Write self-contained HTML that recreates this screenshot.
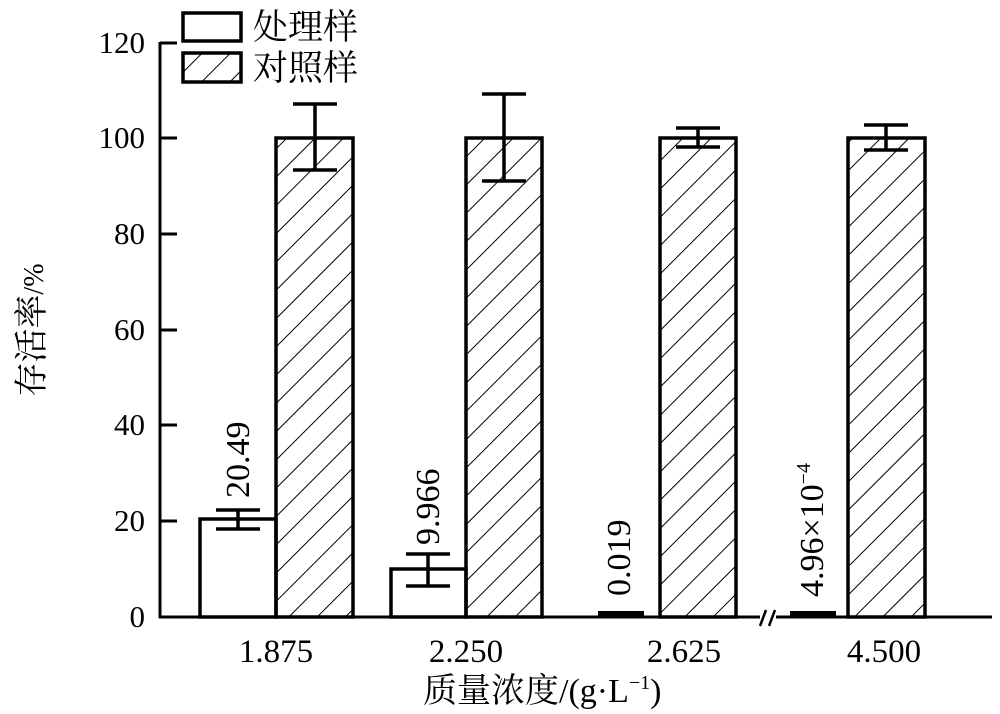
<!DOCTYPE html>
<html><head><meta charset="utf-8"><style>
html,body{margin:0;padding:0;background:#fff;}
svg{display:block;}
text{font-family:"Liberation Serif","Noto Serif CJK SC","Noto Sans CJK SC",serif;fill:#000;}
</style></head><body>
<svg width="1000" height="714" viewBox="0 0 1000 714" xmlns="http://www.w3.org/2000/svg">
<defs>
<pattern id="h" patternUnits="userSpaceOnUse" width="20" height="20" patternTransform="rotate(45)">
<line x1="0" y1="0" x2="0" y2="20" stroke="#000" stroke-width="2"/>
</pattern>
</defs>
<g stroke="#000" stroke-width="3" fill="none">
<line x1="160" y1="42" x2="160" y2="618"/>
<line x1="159" y1="617" x2="760" y2="617"/>
<line x1="776" y1="617" x2="992" y2="617"/>
<line x1="160" y1="43" x2="177" y2="43"/>
<line x1="160" y1="138" x2="177" y2="138"/>
<line x1="160" y1="234" x2="177" y2="234"/>
<line x1="160" y1="330" x2="177" y2="330"/>
<line x1="160" y1="425" x2="177" y2="425"/>
<line x1="160" y1="521" x2="177" y2="521"/>
</g>
<g stroke="#000" stroke-width="2.5">
<line x1="760" y1="626" x2="766" y2="610"/>
<line x1="769" y1="626" x2="775" y2="610"/>
</g>
<g font-size="31" text-anchor="end">
<text x="145" y="53">120</text>
<text x="145" y="148">100</text>
<text x="145" y="244">80</text>
<text x="145" y="340">60</text>
<text x="145" y="435">40</text>
<text x="145" y="531">20</text>
<text x="145" y="627">0</text>
</g>
<text transform="translate(43,330) rotate(-90)" font-size="34" text-anchor="middle">存活率<tspan font-size="28">/%</tspan></text>
<g stroke="#000" stroke-width="3.5">
<rect x="200" y="519" width="76" height="98" fill="#fff"/>
<rect x="276" y="138" width="77" height="479" fill="url(#h)"/>
<rect x="391" y="569" width="75" height="48" fill="#fff"/>
<rect x="466" y="138" width="76" height="479" fill="url(#h)"/>
<rect x="660" y="138" width="76" height="479" fill="url(#h)"/>
<rect x="848" y="138" width="77" height="479" fill="url(#h)"/>
</g>
<rect x="598" y="611" width="46" height="6" fill="#000"/>
<rect x="790" y="611" width="46" height="6" fill="#000"/>
<g stroke="#000" stroke-width="3.5">
<line x1="315" y1="104" x2="315" y2="171"/><line x1="293" y1="104" x2="337" y2="104"/><line x1="293" y1="170" x2="337" y2="170"/>
<line x1="238" y1="510" x2="238" y2="529"/><line x1="216" y1="510" x2="260" y2="510"/><line x1="216" y1="529" x2="260" y2="529"/>
<line x1="504" y1="94" x2="504" y2="181"/><line x1="482" y1="94" x2="526" y2="94"/><line x1="482" y1="181" x2="526" y2="181"/>
<line x1="428" y1="554" x2="428" y2="586"/><line x1="406" y1="554" x2="450" y2="554"/><line x1="406" y1="586" x2="450" y2="586"/>
<line x1="698" y1="128" x2="698" y2="147"/><line x1="676" y1="128" x2="720" y2="128"/><line x1="676" y1="147" x2="720" y2="147"/>
<line x1="886" y1="125" x2="886" y2="150"/><line x1="864" y1="125" x2="908" y2="125"/><line x1="864" y1="150" x2="908" y2="150"/>
</g>
<g font-size="34" font-family="Liberation Serif, serif">
<text transform="translate(249,498) rotate(-90)">20.49</text>
<text transform="translate(439,545) rotate(-90)">9.966</text>
<text transform="translate(630,596) rotate(-90)">0.019</text>
<text transform="translate(823,597) rotate(-90)">4.96×10<tspan font-size="20" dy="-13">−4</tspan></text>
</g>
<g font-size="33" text-anchor="middle">
<text x="276" y="662">1.875</text>
<text x="466" y="662">2.250</text>
<text x="684" y="662">2.625</text>
<text x="884" y="662">4.500</text>
</g>
<text x="423" y="702" font-size="34">质量浓度/(g·L<tspan font-size="20" dy="-13">−1</tspan><tspan dy="13">)</tspan></text>
<g stroke="#000" stroke-width="3.5">
<rect x="183" y="13" width="58" height="28" fill="#fff"/>
<rect x="183" y="53" width="58" height="29" fill="url(#h)"/>
</g>
<g font-size="35">
<text x="253" y="39">处理样</text>
<text x="253" y="80">对照样</text>
</g>
</svg>
</body></html>
